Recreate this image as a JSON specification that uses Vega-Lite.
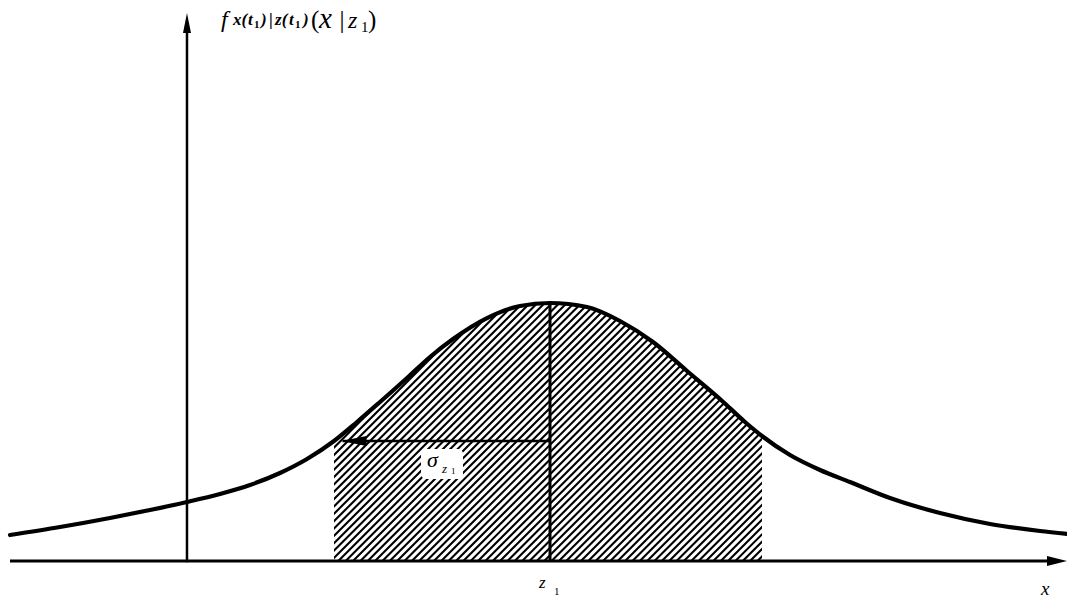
{
  "$schema": "https://vega.github.io/schema/vega-lite/v6.json",
  "width": 1067,
  "height": 598,
  "padding": 0,
  "autosize": {"type": "none"},
  "background": "white",
  "config": {"view": {"stroke": null}, "text": {"font": "Liberation Serif", "color": "black", "align": "left", "baseline": "alphabetic"}},
  "data": {"values": [{}]},
  "datasets": {
    "density": [
      {"x": -2.5, "f": 0.0403},
      {"x": -2.2685, "f": 0.0527},
      {"x": -2.037, "f": 0.0667},
      {"x": -1.8519, "f": 0.0791},
      {"x": -1.6806, "f": 0.0915},
      {"x": -1.5278, "f": 0.1039},
      {"x": -1.3889, "f": 0.1178},
      {"x": -1.25, "f": 0.1364},
      {"x": -1.125, "f": 0.1581},
      {"x": -1.0, "f": 0.186},
      {"x": -0.8935, "f": 0.2155},
      {"x": -0.787, "f": 0.2465},
      {"x": -0.662, "f": 0.2837},
      {"x": -0.5556, "f": 0.3163},
      {"x": -0.4491, "f": 0.3442},
      {"x": -0.2917, "f": 0.3767},
      {"x": -0.1389, "f": 0.3953},
      {"x": 0.0, "f": 0.4},
      {"x": 0.1713, "f": 0.3938},
      {"x": 0.3241, "f": 0.3721},
      {"x": 0.4769, "f": 0.3395},
      {"x": 0.6343, "f": 0.2946},
      {"x": 0.787, "f": 0.2512},
      {"x": 0.9028, "f": 0.2155},
      {"x": 0.9815, "f": 0.1938},
      {"x": 1.1111, "f": 0.1643},
      {"x": 1.25, "f": 0.1411},
      {"x": 1.3889, "f": 0.1225},
      {"x": 1.5741, "f": 0.0977},
      {"x": 1.8056, "f": 0.0744},
      {"x": 2.037, "f": 0.0574},
      {"x": 2.2685, "f": 0.0465},
      {"x": 2.3935, "f": 0.0419}
    ]
  },
  "layer": [
    {
      "description": "diagonal hatching: one very wide dashed stroke, masked below",
      "mark": {"type": "rule", "color": "black", "strokeWidth": 900, "strokeDash": [2.1, 3.1], "strokeCap": "butt", "clip": true},
      "encoding": {
        "x": {"datum": -1.6296, "type": "quantitative", "scale": {"domain": [-2.5463, 2.3935], "nice": false, "zero": false}, "axis": null},
        "y": {"datum": 0.7426, "type": "quantitative", "scale": {"domain": [-0.05736, 0.8698], "nice": false, "zero": false}, "axis": null},
        "x2": {"datum": 1.6111},
        "y2": {"datum": -0.3426}
      }
    },
    {
      "description": "blank out everything above the density curve",
      "data": {"name": "density"},
      "mark": {"type": "area", "color": "white", "interpolate": "monotone", "clip": true},
      "encoding": {
        "x": {"field": "x", "type": "quantitative"},
        "y": {"field": "f", "type": "quantitative"},
        "y2": {"datum": 1.2}
      }
    },
    {
      "description": "blank out left of z1 - sigma",
      "mark": {"type": "rect", "color": "white", "clip": true},
      "encoding": {
        "x": {"datum": -3.5, "type": "quantitative"},
        "x2": {"datum": -1.0},
        "y": {"datum": -0.5, "type": "quantitative"},
        "y2": {"datum": 1.2}
      }
    },
    {
      "description": "blank out right of z1 + sigma",
      "mark": {"type": "rect", "color": "white", "clip": true},
      "encoding": {
        "x": {"datum": 0.9815, "type": "quantitative"},
        "x2": {"datum": 3.5},
        "y": {"datum": -0.5, "type": "quantitative"},
        "y2": {"datum": 1.2}
      }
    },
    {
      "description": "blank out below the x axis",
      "mark": {"type": "rect", "color": "white", "clip": true},
      "encoding": {
        "x": {"datum": -3.5, "type": "quantitative"},
        "x2": {"datum": 3.5},
        "y": {"datum": -0.5, "type": "quantitative"},
        "y2": {"datum": 0}
      }
    },
    {
      "description": "clear patch behind the sigma label",
      "mark": {"type": "rect", "color": "white", "cornerRadius": 5},
      "encoding": {
        "x": {"datum": -0.5972, "type": "quantitative"},
        "x2": {"datum": -0.4028},
        "y": {"datum": 0.1271, "type": "quantitative"},
        "y2": {"datum": 0.1736}
      }
    },
    {
      "data": {"name": "density"},
      "mark": {"type": "line", "color": "black", "strokeWidth": 4.2, "interpolate": "monotone", "strokeCap": "round"},
      "encoding": {
        "x": {"field": "x", "type": "quantitative"},
        "y": {"field": "f", "type": "quantitative"}
      }
    },
    {
      "description": "x axis",
      "mark": {"type": "rule", "color": "black", "strokeWidth": 3},
      "encoding": {
        "x": {"datum": -2.5, "type": "quantitative"},
        "x2": {"datum": 2.3519},
        "y": {"datum": 0, "type": "quantitative"}
      }
    },
    {
      "description": "y axis",
      "mark": {"type": "rule", "color": "black", "strokeWidth": 2.5},
      "encoding": {
        "x": {"datum": -1.6806, "type": "quantitative"},
        "y": {"datum": -0.002, "type": "quantitative"},
        "y2": {"datum": 0.831}
      }
    },
    {
      "description": "mean z1",
      "mark": {"type": "rule", "color": "black", "strokeWidth": 3},
      "encoding": {
        "x": {"datum": 0, "type": "quantitative"},
        "y": {"datum": 0, "type": "quantitative"},
        "y2": {"datum": 0.4}
      }
    },
    {
      "description": "one standard deviation",
      "mark": {"type": "rule", "color": "black", "strokeWidth": 2.5},
      "encoding": {
        "x": {"datum": -0.96, "type": "quantitative"},
        "x2": {"datum": 0},
        "y": {"datum": 0.186, "type": "quantitative"}
      }
    },
    {
      "mark": {"type": "point", "filled": true, "opacity": 1, "color": "black", "strokeWidth": 0, "size": 400, "shape": "M 1 0 L -1 -0.5 L -1 0.5 Z"},
      "encoding": {
        "x": {"datum": 2.3472, "type": "quantitative"},
        "y": {"datum": 0, "type": "quantitative"}
      }
    },
    {
      "mark": {"type": "point", "filled": true, "opacity": 1, "color": "black", "strokeWidth": 0, "size": 400, "shape": "M 0 -1 L -0.4 1 L 0.4 1 Z"},
      "encoding": {
        "x": {"datum": -1.6806, "type": "quantitative"},
        "y": {"datum": 0.8341, "type": "quantitative"}
      }
    },
    {
      "mark": {"type": "point", "filled": true, "opacity": 1, "color": "black", "strokeWidth": 0, "size": 625, "shape": "M -1 0 L 1 -0.4 L 1 0.4 Z"},
      "encoding": {
        "x": {"datum": -0.9074, "type": "quantitative"},
        "y": {"datum": 0.186, "type": "quantitative"}
      }
    },
    {
      "mark": {"type": "text", "text": "σ", "fontStyle": "italic", "fontSize": 22},
      "encoding": {
        "x": {"datum": -0.5694, "type": "quantitative"},
        "y": {"datum": 0.1457, "type": "quantitative"}
      }
    },
    {
      "mark": {"type": "text", "text": "z", "fontStyle": "italic", "fontSize": 13},
      "encoding": {
        "x": {"datum": -0.5, "type": "quantitative"},
        "y": {"datum": 0.1364, "type": "quantitative"}
      }
    },
    {
      "mark": {"type": "text", "text": "1", "fontSize": 9},
      "encoding": {
        "x": {"datum": -0.4583, "type": "quantitative"},
        "y": {"datum": 0.1349, "type": "quantitative"}
      }
    },
    {
      "mark": {"type": "text", "text": "z", "fontStyle": "italic", "fontSize": 17},
      "encoding": {
        "x": {"datum": -0.0509, "type": "quantitative"},
        "y": {"datum": -0.0419, "type": "quantitative"}
      }
    },
    {
      "mark": {"type": "text", "text": "1", "fontSize": 11},
      "encoding": {
        "x": {"datum": 0.0185, "type": "quantitative"},
        "y": {"datum": -0.0527, "type": "quantitative"}
      }
    },
    {
      "mark": {"type": "text", "text": "x", "fontStyle": "italic", "fontSize": 19},
      "encoding": {
        "x": {"datum": 2.2731, "type": "quantitative"},
        "y": {"datum": -0.0527, "type": "quantitative"}
      }
    },
    {
      "mark": {"type": "text", "text": "f", "fontStyle": "italic", "fontSize": 24},
      "encoding": {
        "x": {"datum": -1.5231, "type": "quantitative"},
        "y": {"datum": 0.8279, "type": "quantitative"}
      }
    },
    {
      "mark": {"type": "text", "text": "x(", "fontStyle": "italic", "fontWeight": "bold", "fontSize": 17},
      "encoding": {
        "x": {"datum": -1.4676, "type": "quantitative"},
        "y": {"datum": 0.831, "type": "quantitative"}
      }
    },
    {
      "mark": {"type": "text", "text": "t", "fontStyle": "italic", "fontWeight": "bold", "fontSize": 17},
      "encoding": {
        "x": {"datum": -1.3981, "type": "quantitative"},
        "y": {"datum": 0.831, "type": "quantitative"}
      }
    },
    {
      "mark": {"type": "text", "text": "1", "fontWeight": "bold", "fontSize": 11},
      "encoding": {
        "x": {"datum": -1.3704, "type": "quantitative"},
        "y": {"datum": 0.8264, "type": "quantitative"}
      }
    },
    {
      "mark": {"type": "text", "text": ")", "fontStyle": "italic", "fontWeight": "bold", "fontSize": 17},
      "encoding": {
        "x": {"datum": -1.338, "type": "quantitative"},
        "y": {"datum": 0.831, "type": "quantitative"}
      }
    },
    {
      "mark": {"type": "text", "text": "|", "fontWeight": "bold", "fontSize": 17},
      "encoding": {
        "x": {"datum": -1.3009, "type": "quantitative"},
        "y": {"datum": 0.831, "type": "quantitative"}
      }
    },
    {
      "mark": {"type": "text", "text": "z(", "fontStyle": "italic", "fontWeight": "bold", "fontSize": 17},
      "encoding": {
        "x": {"datum": -1.2731, "type": "quantitative"},
        "y": {"datum": 0.831, "type": "quantitative"}
      }
    },
    {
      "mark": {"type": "text", "text": "t", "fontStyle": "italic", "fontWeight": "bold", "fontSize": 17},
      "encoding": {
        "x": {"datum": -1.2083, "type": "quantitative"},
        "y": {"datum": 0.831, "type": "quantitative"}
      }
    },
    {
      "mark": {"type": "text", "text": "1", "fontWeight": "bold", "fontSize": 11},
      "encoding": {
        "x": {"datum": -1.1806, "type": "quantitative"},
        "y": {"datum": 0.8264, "type": "quantitative"}
      }
    },
    {
      "mark": {"type": "text", "text": ")", "fontStyle": "italic", "fontWeight": "bold", "fontSize": 17},
      "encoding": {
        "x": {"datum": -1.1435, "type": "quantitative"},
        "y": {"datum": 0.831, "type": "quantitative"}
      }
    },
    {
      "mark": {"type": "text", "text": "(", "fontSize": 25},
      "encoding": {
        "x": {"datum": -1.1065, "type": "quantitative"},
        "y": {"datum": 0.8264, "type": "quantitative"}
      }
    },
    {
      "mark": {"type": "text", "text": "x", "fontStyle": "italic", "fontSize": 29},
      "encoding": {
        "x": {"datum": -1.0694, "type": "quantitative"},
        "y": {"datum": 0.8264, "type": "quantitative"}
      }
    },
    {
      "mark": {"type": "text", "text": "|", "fontSize": 25},
      "encoding": {
        "x": {"datum": -0.9745, "type": "quantitative"},
        "y": {"datum": 0.8264, "type": "quantitative"}
      }
    },
    {
      "mark": {"type": "text", "text": "z", "fontStyle": "italic", "fontSize": 24},
      "encoding": {
        "x": {"datum": -0.9352, "type": "quantitative"},
        "y": {"datum": 0.8264, "type": "quantitative"}
      }
    },
    {
      "mark": {"type": "text", "text": "1", "fontSize": 15},
      "encoding": {
        "x": {"datum": -0.875, "type": "quantitative"},
        "y": {"datum": 0.8202, "type": "quantitative"}
      }
    },
    {
      "mark": {"type": "text", "text": ")", "fontSize": 25},
      "encoding": {
        "x": {"datum": -0.8426, "type": "quantitative"},
        "y": {"datum": 0.8264, "type": "quantitative"}
      }
    }
  ]
}
